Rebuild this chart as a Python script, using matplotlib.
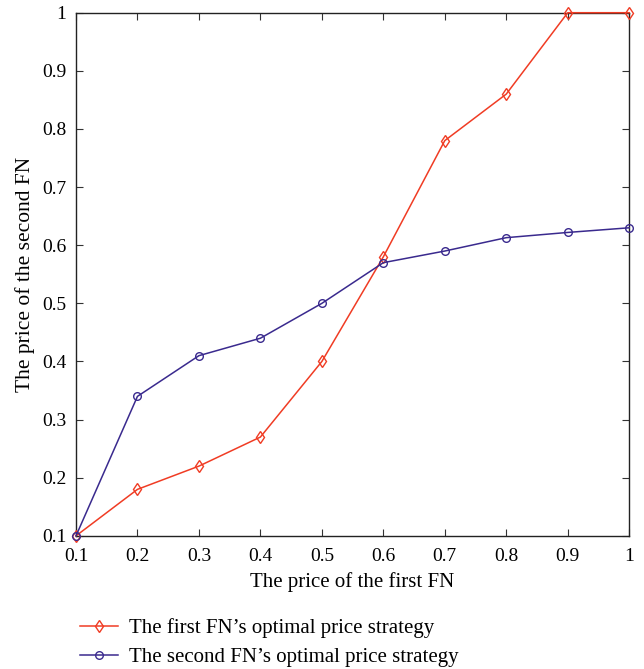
import numpy as np
import matplotlib.pyplot as plt

plt.rcParams['font.family'] = ['Liberation Serif', 'DejaVu Serif']

x = [0.1, 0.2, 0.3, 0.4, 0.5, 0.6, 0.7, 0.8, 0.9, 1.0]
first_fn = [0.1, 0.18, 0.22, 0.27, 0.40, 0.58, 0.78, 0.86, 1.0, 1.0]
second_fn = [0.1, 0.34, 0.41, 0.44, 0.50, 0.57, 0.59, 0.613, 0.622, 0.63]
ticks = [0.1, 0.2, 0.3, 0.4, 0.5, 0.6, 0.7, 0.8, 0.9, 1.0]
tick_labels = ['0.1', '0.2', '0.3', '0.4', '0.5', '0.6', '0.7', '0.8', '0.9', '1']

fig = plt.figure(figsize=(6.44, 6.69), dpi=100)
ax = fig.add_axes([0.118, 0.199, 0.859, 0.782])

ax.plot(x, first_fn, c='#f03c24', lw=1.1, marker='d', ms=6, mfc='none', mew=1.0,
        clip_on=False, zorder=3,
        label="The first FN\u2019s optimal price strategy")
ax.plot(x, second_fn, c='#3a2a8e', lw=1.1, marker='o', ms=5.5, mfc='none', mew=1.0,
        clip_on=False, zorder=3,
        label="The second FN\u2019s optimal price strategy")

ax.set_xlim(0.1, 1)
ax.set_ylim(0.1, 1)
ax.set_xticks(ticks)
ax.set_xticklabels(tick_labels)
ax.set_yticks(ticks)
ax.set_yticklabels(tick_labels)
ax.tick_params(direction='in', top=True, right=True, labelsize=14, length=5,
               color='#333333')
ax.tick_params(axis='x', pad=9)
ax.tick_params(axis='y', pad=7)
for s in ax.spines.values():
    s.set_color('#222222')
    s.set_linewidth(1.0)
ax.set_xlabel("The price of the first FN", fontsize=15, labelpad=5)
ax.set_ylabel("The price of the second FN", fontsize=15.5, labelpad=5)

fig.legend(loc='upper left', bbox_to_anchor=(0.112, 0.088), frameon=False,
           fontsize=15, handlelength=1.8, handletextpad=0.55, labelspacing=0.45,
           borderaxespad=0)

plt.savefig('out.png', dpi=100)
